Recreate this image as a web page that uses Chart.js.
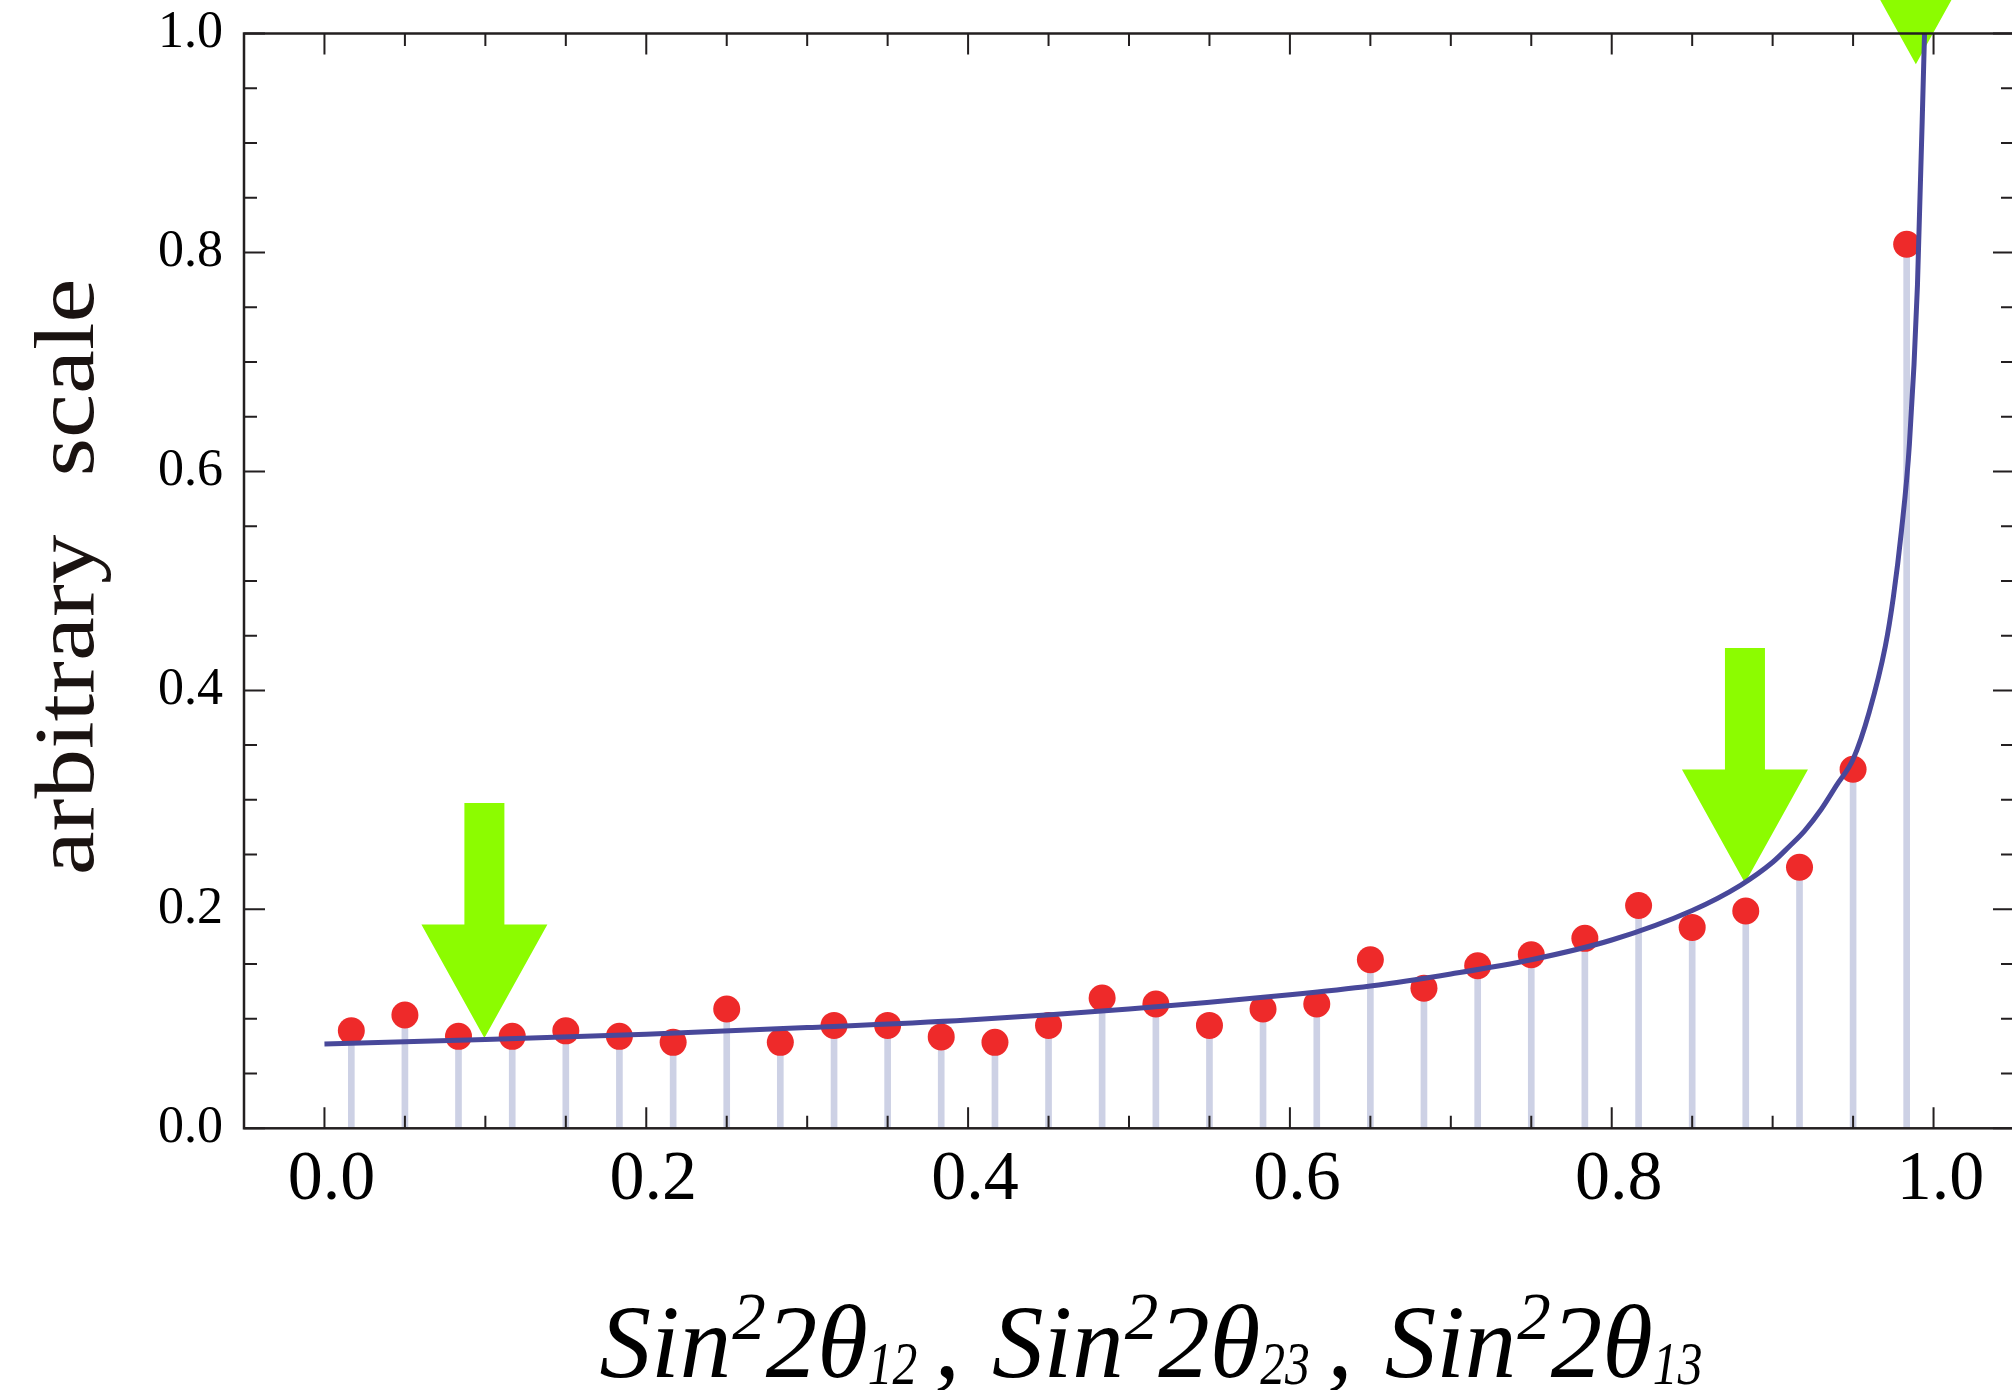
<!DOCTYPE html>
<html>
<head>
<meta charset="utf-8">
<title>Mixing angle distribution</title>
<script src="https://cdn.jsdelivr.net/npm/chart.js@4.4.0/dist/chart.umd.min.js"></script>
<style>
  html, body { margin: 0; padding: 0; background: #fff; overflow: hidden; }
  #wrap { width: 2020px; height: 1390px; }
</style>
</head>
<body>
<div id="wrap"><canvas id="mixingChart" width="2020" height="1390"></canvas></div>
<script>
// Histogram: 30 bins on [0, 1], value at each bin centre
const binCenters = [0.0167, 0.05, 0.0833, 0.1167, 0.15, 0.1833, 0.2167, 0.25, 0.2833, 0.3167,
                    0.35, 0.3833, 0.4167, 0.45, 0.4833, 0.5167, 0.55, 0.5833, 0.6167, 0.65,
                    0.6833, 0.7167, 0.75, 0.7833, 0.8167, 0.85, 0.8833, 0.9167, 0.95, 0.9833];
const binValues = [0.089, 0.1035, 0.084, 0.084, 0.089, 0.084, 0.0785, 0.109, 0.0785, 0.094,
                   0.094, 0.0835, 0.0785, 0.094, 0.119, 0.1135, 0.094, 0.109, 0.1135, 0.154,
                   0.128, 0.1485, 0.1585, 0.1735, 0.2035, 0.1835, 0.1985, 0.2385, 0.328, 0.8075];

// Analytic distribution curve
const curveX = [0, 0.1, 0.2, 0.3, 0.4, 0.5, 0.6, 0.65, 0.7, 0.75, 0.8, 0.85, 0.88, 0.9, 0.91,
                0.92, 0.93, 0.94, 0.95, 0.96, 0.97, 0.975, 0.98, 0.985, 0.99, 0.9944];
const curveY = [0.077, 0.081, 0.086, 0.092, 0.099, 0.109, 0.122, 0.130, 0.141, 0.154, 0.172, 0.199, 0.222, 0.243, 0.257,
                0.272, 0.291, 0.314, 0.337, 0.380, 0.440, 0.485, 0.545, 0.625, 0.770, 1.0];

// Measured values marked with arrows (tip position)
const arrowTipX = [0.0994, 0.8828, 0.989];
const arrowTipY = [0.0825, 0.224, 0.972];

const xMajorTicks = [0, 0.2, 0.4, 0.6, 0.8, 1.0];
const xMinorTicks = [0.05, 0.1, 0.15, 0.25, 0.3, 0.35, 0.45, 0.5, 0.55, 0.65, 0.7, 0.75, 0.85, 0.9, 0.95];
const yMajorTicks = [0, 0.2, 0.4, 0.6, 0.8, 1.0];
const yMinorTicks = [0.05, 0.1, 0.15, 0.25, 0.3, 0.35, 0.45, 0.5, 0.55, 0.65, 0.7, 0.75, 0.85, 0.9, 0.95];

const SERIF = '"Liberation Serif", "DejaVu Serif", serif';
const INK = '#231f20';

// Frame and inward tick marks on all four sides
const framePlugin = {
    id: 'frame',
    afterDraw(chart) {
        const { ctx, chartArea: a, scales: { x, y } } = chart;
        ctx.save();
        ctx.strokeStyle = INK;
        ctx.lineWidth = 2.5;
        ctx.strokeRect(a.left, a.top, a.right - a.left, a.bottom - a.top);

        ctx.lineWidth = 2;
        ctx.beginPath();
        const xTicks = (vals, len) => vals.forEach(v => {
            const px = x.getPixelForValue(v);
            ctx.moveTo(px, a.bottom); ctx.lineTo(px, a.bottom - len);
            ctx.moveTo(px, a.top); ctx.lineTo(px, a.top + len);
        });
        const yTicks = (vals, len) => vals.forEach(v => {
            const py = y.getPixelForValue(v);
            ctx.moveTo(a.left, py); ctx.lineTo(a.left + len, py);
            ctx.moveTo(a.right, py); ctx.lineTo(a.right - len, py);
        });
        xTicks(xMajorTicks, 21);
        xTicks(xMinorTicks, 12.5);
        yTicks(yMajorTicks, 21);
        yTicks(yMinorTicks, 13);
        ctx.stroke();
        ctx.restore();
    }
};

// Green arrows, painted just before the curve so the curve stays on top
const arrowPlugin = {
    id: 'arrows',
    beforeDatasetDraw(chart, args) {
        if (args.index !== 2) return;
        const { ctx, scales: { x, y } } = chart;
        ctx.save();
        ctx.fillStyle = '#8cfc00';
        arrowTipX.forEach((v, i) => {
            const tx = x.getPixelForValue(v);
            const ty = y.getPixelForValue(arrowTipY[i]);
            ctx.beginPath();
            ctx.moveTo(tx, ty);
            ctx.lineTo(tx - 63, ty - 113.5);
            ctx.lineTo(tx - 20, ty - 113.5);
            ctx.lineTo(tx - 20, ty - 235);
            ctx.lineTo(tx + 20, ty - 235);
            ctx.lineTo(tx + 20, ty - 113.5);
            ctx.lineTo(tx + 63, ty - 113.5);
            ctx.closePath();
            ctx.fill();
        });
        ctx.restore();
    }
};

// x title pieces: [text, kind (0 normal, 1 superscript, -1 subscript), gap before in px]
const xTitleParts = [
    ['Sin', 0, 0], ['2', 1, 1], ['2θ', 0, 0], ['12', -1, 0], [',', 0, 17],
    ['Sin', 0, 32], ['2', 1, 1], ['2θ', 0, 0], ['23', -1, 0], [',', 0, 17],
    ['Sin', 0, 32], ['2', 1, 1], ['2θ', 0, 0], ['13', -1, 0]
];

function partStyle(kind) {
    if (kind === 1) return { font: `italic 67px ${SERIF}`, dy: -38, sx: 1 };
    if (kind === -1) return { font: `italic 62px ${SERIF}`, dy: 7, sx: 0.8 };
    return { font: `italic 103px ${SERIF}`, dy: 0, sx: 1 };
}

const titlePlugin = {
    id: 'titles',
    afterDraw(chart) {
        const { ctx } = chart;
        ctx.save();
        ctx.fillStyle = '#000';
        ctx.textBaseline = 'alphabetic';
        ctx.textAlign = 'left';

        let total = 0;
        xTitleParts.forEach(([t, kind, gap]) => {
            const s = partStyle(kind);
            ctx.font = s.font;
            total += gap + ctx.measureText(t).width * s.sx;
        });
        let cx = 1151 - total / 2;
        const baseY = 1377;
        xTitleParts.forEach(([t, kind, gap]) => {
            const s = partStyle(kind);
            ctx.font = s.font;
            cx += gap;
            ctx.save();
            ctx.translate(cx, baseY + s.dy);
            ctx.scale(s.sx, 1);
            ctx.fillText(t, 0, 0);
            ctx.restore();
            cx += ctx.measureText(t).width * s.sx;
        });

        // vertical title, two words with a wide gap
        ctx.translate(93, 577);
        ctx.rotate(-Math.PI / 2);
        ctx.scale(1, 0.86);
        ctx.fillStyle = '#1a1311';
        ctx.font = `99px ${SERIF}`;
        const w1 = ctx.measureText('arbitrary').width;
        const w2 = ctx.measureText('scale').width;
        const gapW = 58;
        const start = -(w1 + gapW + w2) / 2;
        ctx.fillText('arbitrary', start, 0);
        ctx.fillText('scale', start + w1 + gapW, 0);
        ctx.restore();
    }
};

// drop the label overhang padding so the plot frame sits where the layout puts it
function noOverhang(axis) {
    axis.paddingTop = 0;
    axis.paddingBottom = 0;
    axis.paddingLeft = 0;
    axis.paddingRight = 0;
}

function buildChart() {
    const ctx = document.getElementById('mixingChart').getContext('2d');
    const bins = binCenters.map((x, i) => ({ x: x, y: binValues[i] }));
    const curve = curveX.map((x, i) => ({ x: x, y: curveY[i] }));

    new Chart(ctx, {
        type: 'scatter',
        data: {
            datasets: [
                {
                    type: 'bar',
                    data: bins,
                    backgroundColor: '#cdd1e5',
                    barThickness: 6,
                    order: 2
                },
                {
                    type: 'scatter',
                    data: bins,
                    backgroundColor: '#ee2a2a',
                    borderWidth: 0,
                    pointRadius: 13.5,
                    order: 1
                },
                {
                    type: 'line',
                    data: curve,
                    borderColor: '#48489a',
                    borderWidth: 5,
                    pointRadius: 0,
                    fill: false,
                    cubicInterpolationMode: 'monotone',
                    order: 0
                }
            ]
        },
        options: {
            responsive: false,
            animation: false,
            events: [],
            layout: { autoPadding: false, padding: { left: 0, top: 33.5, right: 6, bottom: 0 } },
            plugins: {
                legend: { display: false },
                tooltip: { enabled: false }
            },
            scales: {
                x: {
                    type: 'linear',
                    min: -0.05,
                    max: 1.05,
                    offset: false,
                    grid: { display: false, drawTicks: false },
                    border: { display: false },
                    afterBuildTicks: axis => { axis.ticks = xMajorTicks.map(v => ({ value: v })); },
                    afterFit: axis => { axis.height = 261.7; noOverhang(axis); },
                    ticks: {
                        color: '#000',
                        padding: 10,
                        labelOffset: 7,
                        maxRotation: 0,
                        autoSkip: false,
                        font: { family: SERIF, size: 70 },
                        callback: v => v.toFixed(1)
                    }
                },
                y: {
                    type: 'linear',
                    min: 0,
                    max: 1,
                    grid: { display: false, drawTicks: false },
                    border: { display: false },
                    afterBuildTicks: axis => { axis.ticks = yMajorTicks.map(v => ({ value: v })); },
                    afterFit: axis => { axis.width = 244; noOverhang(axis); },
                    ticks: {
                        color: '#000',
                        padding: 21,
                        autoSkip: false,
                        font: { family: SERIF, size: 52 },
                        callback: v => v.toFixed(1)
                    }
                }
            }
        },
        plugins: [arrowPlugin, framePlugin, titlePlugin]
    });
}

document.addEventListener('DOMContentLoaded', buildChart);
</script>
</body>
</html>
